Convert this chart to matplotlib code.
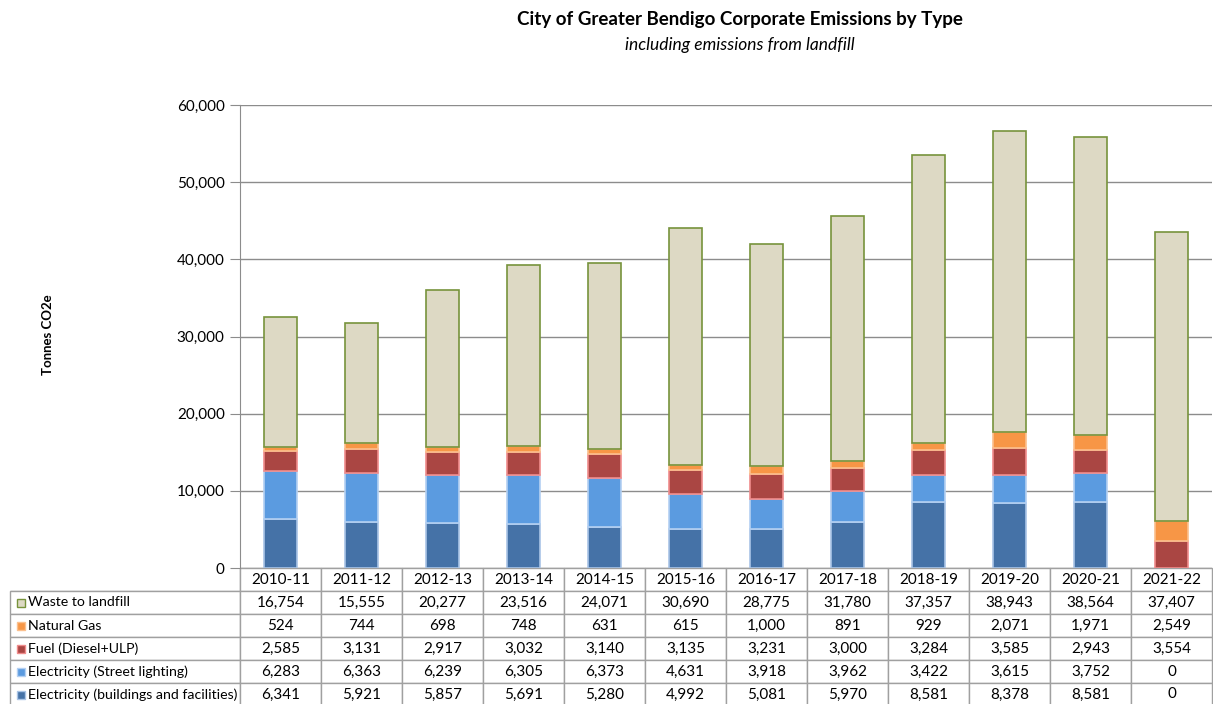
import numpy as np
import matplotlib.pyplot as plt
from matplotlib.patches import Rectangle
from matplotlib.ticker import FuncFormatter

plt.rcParams['font.family'] = ['Lato', 'DejaVu Sans']

##### DATA #####
years = ['2010-11', '2011-12', '2012-13', '2013-14', '2014-15', '2015-16',
         '2016-17', '2017-18', '2018-19', '2019-20', '2020-21', '2021-22']
buildings = [6341, 5921, 5857, 5691, 5280, 4992, 5081, 5970, 8581, 8378, 8581, 0]
street = [6283, 6363, 6239, 6305, 6373, 4631, 3918, 3962, 3422, 3615, 3752, 0]
fuel = [2585, 3131, 2917, 3032, 3140, 3135, 3231, 3000, 3284, 3585, 2943, 3554]
gas = [524, 744, 698, 748, 631, 615, 1000, 891, 929, 2071, 1971, 2549]
waste = [16754, 15555, 20277, 23516, 24071, 30690, 28775, 31780, 37357, 38943, 38564, 37407]

names = ['Electricity (buildings and facilities)', 'Electricity (Street lighting)',
         'Fuel (Diesel+ULP)', 'Natural Gas', 'Waste to landfill']
series = [buildings, street, fuel, gas, waste]
faces = ['#4572A7', '#5B9BE0', '#AA4643', '#F79646', '#DDD9C4']
edges = ['#A9C4E6', '#B4D0F2', '#F08C8C', '#FBC08E', '#77933C']

##### PLOT #####
W, H = 1213, 704
fig = plt.figure(figsize=(W / 100, H / 100), dpi=100)
ax = fig.add_axes([240 / W, (H - 568) / H, 972 / W, 463 / H])

x = np.arange(len(years))
bottom = np.zeros(len(years))
for vals, fc, ec in zip(series, faces, edges):
    vals = np.array(vals, dtype=float)
    lw = np.where(vals > 0, 1.2, 0)
    ax.bar(x, vals, 0.41, bottom=bottom, color=fc, edgecolor=ec, linewidth=lw, zorder=3)
    bottom += vals

ax.set_xlim(-0.5, len(years) - 0.5)
ax.set_ylim(0, 60000)
ax.set_yticks(np.arange(0, 60001, 10000))
ax.yaxis.set_major_formatter(FuncFormatter(lambda v, p: f'{v:,.0f}'))
ax.set_xticks([])
ax.grid(axis='y', color='#8C8C8C', linewidth=1)
ax.set_axisbelow(True)
ax.tick_params(axis='y', length=7, color='#8C8C8C', labelsize=11, pad=4)
for s in ['top', 'right', 'bottom']:
    ax.spines[s].set_visible(False)
ax.spines['left'].set_color('#8C8C8C')

##### TABLE #####
rows = [[''] + years]
for name, vals in zip(names[::-1], series[::-1]):
    rows.append([name] + [f'{v:,}' for v in vals])
colw = [230] + [81] * len(years)
tbl = ax.table(cellText=rows, colWidths=colw, cellLoc='center',
               bbox=[(10 - 240) / 972, (568 - 706) / 463, 1202 / 972, 138 / 463])
tbl.auto_set_font_size(False)
tbl.set_fontsize(11)
for (r, c), cell in tbl.get_celld().items():
    cell.set_edgecolor('#A0A0A0')
    cell.set_linewidth(1)
    if c == 0:
        cell._loc = 'left'
        cell.PAD = 0.08
        cell.get_text().set_horizontalalignment('left')
        cell.get_text().set_fontsize(10.2)
tbl[0, 0].visible_edges = 'BR'

# legend keys in the row labels
row_h = 138 / 6
for i, (fc, ec) in enumerate(zip(faces[::-1], edges[::-1])):
    yc = 568 + row_h * (i + 1.5)
    fig.patches.append(Rectangle((17 / W, 1 - (yc + 4) / H), 8 / W, 8 / H,
                                 transform=fig.transFigure, facecolor=fc,
                                 edgecolor=ec, linewidth=1))

fig.text(740 / W, 1 - 19 / H, 'City of Greater Bendigo Corporate Emissions by Type',
         ha='center', va='center', fontsize=13.5, fontweight='bold')
fig.text(740 / W, 1 - 45 / H, 'including emissions from landfill',
         ha='center', va='center', fontsize=12.5, style='italic')
fig.text(48 / W, 1 - 335 / H, 'Tonnes CO2e', rotation=90, ha='center', va='center',
         fontsize=9.5, fontweight='bold')

plt.savefig('out.png', dpi=100)
